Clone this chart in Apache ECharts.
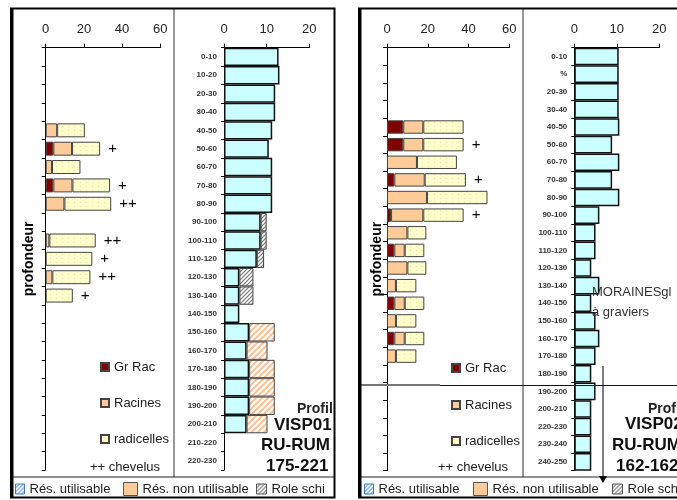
<!DOCTYPE html>
<html><head><meta charset="utf-8">
<script src="https://cdn.jsdelivr.net/npm/echarts@6/dist/echarts.min.js"></script>
<style>html,body{margin:0;padding:0;background:#fff}#c{width:677px;height:500px}</style>
</head><body><div id="c"></div>
<script>
// ---------- DATA ----------
const depth1 = ['0-10','10-20','20-30','30-40','40-50','50-60','60-70','70-80','80-90','90-100','100-110','110-120','120-130','130-140','140-150','150-160','160-170','170-180','180-190','190-200','200-210','210-220','220-230'];
const grRac1 = [null,null,null,null,null,4,null,4,null,null,null,null,null,null,null,null,null,null,null,null,null,null,null];
const racines1 = [null,null,null,null,6,9.8,3.3,10,9.8,null,1.9,null,3.5,null,null,null,null,null,null,null,null,null,null];
const radicelles1 = [null,null,null,null,14.5,14.7,14.9,19.7,24.5,null,24.3,24.4,19.9,14.2,null,null,null,null,null,null,null,null,null];
const chevelus1 = ['','','','','','+','','+','++','','++','+','++','+','','','','','','','','',''];
const utilisable1 = [12.8,13.0,12.0,12.0,11.3,10.5,11.3,11.3,11.3,8.6,8.6,7.7,3.6,3.6,3.6,5.9,5.3,5.9,5.9,5.9,5.3,null,null];
const nonUtil1 = [null,null,null,null,null,null,null,null,null,null,null,null,null,null,null,6.0,4.9,6.0,6.0,6.0,4.9,null,null];
const schiste1 = [null,null,null,null,null,null,null,null,null,1.4,1.4,1.7,3.3,3.3,null,null,null,null,null,null,null,null,null];

const depth2 = ['0-10','%','20-30','30-40','40-50','50-60','60-70','70-80','80-90','90-100','100-110','110-120','120-130','130-140','140-150','150-160','160-170','170-180','180-190','190-200','200-210','220-230','230-240','240-250'];
const grRac2 = [null,null,null,null,8,8,null,3.6,null,2,null,3.6,null,null,3.6,null,3.6,null,null,null,null,null,null,null];
const racines2 = [null,null,null,null,9.8,9.8,14.7,14.9,19.6,15.8,10,5.1,10,4.4,5.1,4.4,5.1,4.4,null,null,null,null,null,null];
const radicelles2 = [null,null,null,null,19.8,19.8,19.6,20.2,29.7,19.8,9.3,9.6,9.3,10,9.6,10,9.6,10,null,null,null,null,null,null];
const chevelus2 = ['','','','','','+','','+','','+','','','','','','','','','','','','','',''];
const utilisable2 = [10.45,10.45,10.45,10.45,10.6,8.9,10.6,8.9,10.6,5.9,5.0,5.0,4.0,5.9,4.0,5.0,5.9,5.0,4.0,5.0,4.0,4.0,4.0,4.0];

const rootTicks = [0,20,40,60];
const ruTicks = [0,10,20];

// ---------- PATTERNS ----------
function hatch(fg, bg, size, lw) {
  const c = document.createElement('canvas'); c.width = c.height = size;
  const x = c.getContext('2d'); x.fillStyle = bg; x.fillRect(0,0,size,size);
  x.strokeStyle = fg; x.lineWidth = lw; x.beginPath();
  x.moveTo(0,size); x.lineTo(size,0);
  x.moveTo(-size/2,size/2); x.lineTo(size/2,-size/2);
  x.moveTo(size/2,size*1.5); x.lineTo(size*1.5,size/2);
  x.stroke();
  return {image:c, repeat:'repeat'};
}
function dots(fg, bg) {
  const c = document.createElement('canvas'); c.width = 6; c.height = 4;
  const x = c.getContext('2d'); x.fillStyle = bg; x.fillRect(0,0,6,4);
  x.fillStyle = fg; x.fillRect(2,2,1,1);
  return {image:c, repeat:'repeat'};
}
const hOrange = hatch('#ffbb88','#ffffff',6,1.8);
const hGray = hatch('#7a7a7a','#ffffff',4,1.2);
const hBlue = hatch('#66a3e6','#ffffff',4,1.2);
const dYellow = dots('#e6e0a8','#ffffcc');

const FONT = 'Arial, "Liberation Sans", sans-serif';

// ---------- AXES ----------
function xAx(g, max, interval) {
  return {gridIndex:g, type:'value', position:'top', min:0, max:max, interval:interval,
    splitLine:{show:false},
    axisLine:{show:true, lineStyle:{color:'#000', width:1}},
    axisTick:{show:true, inside:false, length:4, lineStyle:{color:'#000'}},
    axisLabel:{fontSize:13, color:'#222', margin:12, fontFamily:FONT}};
}
function yAxRoot(g, cats, gap) {
  return {gridIndex:g, type:'category', data:cats, inverse:true,
    axisLine:{show:true, lineStyle:{color:'#000'}},
    axisTick:{show:true, length:4, lineStyle:{color:'#000'}},
    axisLabel:{show:false}, splitLine:{show:false},
    name:'profondeur', nameLocation:'middle', nameRotate:90, nameGap:gap,
    nameTextStyle:{fontSize:14, fontWeight:'bold', color:'#000', fontFamily:FONT}};
}
function yAxRU(g, cats) {
  return {gridIndex:g, type:'category', data:cats, inverse:true,
    axisLine:{show:true, lineStyle:{color:'#000'}},
    axisTick:{show:true, length:3, lineStyle:{color:'#000'}},
    axisLabel:{fontSize:8, fontWeight:'bold', color:'#333', margin:7, fontFamily:FONT},
    splitLine:{show:false}};
}

// ---------- SERIES ----------
function rootSeries(ax, stack, gr, ra, rd, chev) {
  const bw = {borderColor:'#444', borderWidth:1};
  return [
    {name:'Gr Rac', type:'bar', xAxisIndex:ax, yAxisIndex:ax, stack:stack, data:gr, barCategoryGap:'24%',
     itemStyle:Object.assign({color:'#800000'}, bw)},
    {name:'Racines', type:'bar', xAxisIndex:ax, yAxisIndex:ax, stack:stack, data:ra, barCategoryGap:'24%',
     itemStyle:Object.assign({color:'#ffcc99'}, bw)},
    {name:'radicelles', type:'bar', xAxisIndex:ax, yAxisIndex:ax, stack:stack, data:rd, barCategoryGap:'24%',
     itemStyle:Object.assign({color:dYellow}, bw),
     label:{show:true, position:'right', distance:8, fontSize:15, color:'#000', fontFamily:FONT,
       formatter:p => chev[p.dataIndex] || ''}}
  ];
}
const ruBorder = {borderColor:'#111', borderWidth:1.5};
const series = [].concat(
  rootSeries(0,'r1',grRac1,racines1,radicelles1,chevelus1),
  [
    {name:'Rés. utilisable', type:'bar', xAxisIndex:1, yAxisIndex:1, stack:'u1', data:utilisable1, barCategoryGap:'0%',
     itemStyle:Object.assign({color:'#ccffff'}, ruBorder)},
    {name:'Rés. non utilisable', type:'bar', xAxisIndex:1, yAxisIndex:1, stack:'u1', data:nonUtil1, barCategoryGap:'0%',
     itemStyle:{color:hOrange, borderColor:'#444', borderWidth:1}},
    {name:'Role schi', type:'bar', xAxisIndex:1, yAxisIndex:1, stack:'u1', data:schiste1, barCategoryGap:'0%',
     itemStyle:{color:hGray, borderColor:'#444', borderWidth:1}}
  ],
  rootSeries(2,'r2',grRac2,racines2,radicelles2,chevelus2),
  [
    {name:'Rés. utilisable', type:'bar', xAxisIndex:3, yAxisIndex:3, stack:'u2', data:utilisable2, barCategoryGap:'0%',
     itemStyle:Object.assign({color:'#ccffff'}, ruBorder)}
  ]
);

// ---------- LEGENDS ----------
function leg(item, x, cy, w, h) {
  return {data:[item], left:x, top:cy-8, orient:'horizontal', itemWidth:w, itemHeight:h, itemGap:0,
    icon:'rect', padding:0, selectedMode:false,
    textStyle:{fontSize:13, color:'#222', fontFamily:FONT, lineHeight:16}};
}
const legends = [
  leg('Gr Rac', 100, 367, 8, 8), leg('Racines', 100, 403, 8, 8), leg('radicelles', 100, 439, 8, 8),
  leg('Gr Rac', 451, 368, 8, 8), leg('Racines', 451, 405, 8, 8), leg('radicelles', 451, 441, 8, 8),
  leg({name:'Rés. utilisable', icon:'rect', itemStyle:{color:hBlue, borderColor:'#3d78c0', borderWidth:1}}, 15, 489, 9, 10),
  leg({name:'Rés. non utilisable', icon:'rect', itemStyle:{color:'#ffcc99', borderColor:'#555', borderWidth:1}}, 123, 489, 14, 13),
  leg({name:'Role schi', icon:'rect', itemStyle:{color:hGray, borderColor:'#555', borderWidth:1}}, 256, 489, 10, 10),
  leg({name:'Rés. utilisable', icon:'rect', itemStyle:{color:hBlue, borderColor:'#3d78c0', borderWidth:1}}, 364, 489, 9, 10),
  leg({name:'Rés. non utilisable', icon:'rect', itemStyle:{color:'#ffcc99', borderColor:'#555', borderWidth:1}}, 473, 489, 14, 13),
  leg({name:'Role schi', icon:'rect', itemStyle:{color:hGray, borderColor:'#555', borderWidth:1}}, 612, 489, 10, 10)
];

// ---------- GRAPHICS ----------
function line(x1,y1,x2,y2,color,w,z) {
  return {type:'line', shape:{x1,y1,x2,y2}, style:{stroke:color, lineWidth:w}, z:z||50, silent:true};
}
function txt(s, x, y, font, fill, z) {
  return {type:'text', x:x, y:y, z:z||50, silent:true,
    style:{text:s, font:font, fill:fill||'#222', textVerticalAlign:'middle', verticalAlign:'middle'}};
}
const TB = 'bold 17px ' + FONT;
const graphics = [
  line(174,8,174,477,'#333',1), line(523,8,523,477,'#333',1),
  line(11,477,335,477,'#222',1), line(359,477,677,477,'#222',1),
  line(360,385,440,385,'#777',2), line(440,385.5,677,385.5,'#111',1),
  line(603,366,603,477,'#000',1),
  {type:'polygon', shape:{points:[[599,476],[607,476],[603,483]]}, style:{fill:'#000'}, z:50, silent:true},
  txt('++ chevelus', 90, 467, '13px ' + FONT),
  txt('++ chevelus', 438, 467, '13px ' + FONT),
  txt('MORAINESgl', 592, 292, '13px ' + FONT, '#333'),
  txt('à graviers', 592, 312, '13px ' + FONT, '#333'),
  txt('Profil', 297, 409, 'bold 14px ' + FONT, '#222'),
  txt('VISP01', 274, 425, TB, '#111'),
  txt('RU-RUM', 261, 445, TB, '#111'),
  txt('175-221', 266, 466, TB, '#111'),
  txt('Profil', 648, 409, 'bold 14px ' + FONT, '#222'),
  txt('VISP02', 625, 424, TB, '#111'),
  txt('RU-RUM', 612, 445, TB, '#111'),
  txt('162-162', 616, 466, TB, '#111'),
  {type:'rect', shape:{x:335.5, y:0, width:23, height:500}, style:{fill:'#fff'}, z:100, silent:true},
  {type:'rect', shape:{x:11, y:8.5, width:323.5, height:489}, style:{fill:null, stroke:'#000', lineWidth:2}, z:101, silent:true},
  line(12,8,12,498,'#000',3,101),
  {type:'rect', shape:{x:359, y:8.5, width:340, height:489}, style:{fill:null, stroke:'#000', lineWidth:2}, z:101, silent:true},
  line(360,8,360,498,'#000',3,101)
];

const chart = echarts.init(document.getElementById('c'), null, {renderer:'canvas'});
chart.setOption({
  animation:false,
  backgroundColor:'#fff',
  textStyle:{fontFamily:FONT},
  grid:[
    {left:45.7, top:47.7, width:114.6, height:422.3},
    {left:224, top:47.7, width:85.3, height:422.3},
    {left:387, top:47.7, width:122.3, height:423},
    {left:574.3, top:47.7, width:85, height:423}
  ],
  xAxis:[xAx(0,60,20), xAx(1,20,10), xAx(2,60,20), xAx(3,20,10)],
  yAxis:[yAxRoot(0,depth1,10), yAxRU(1,depth1), yAxRoot(2,depth2,3), yAxRU(3,depth2)],
  legend:legends,
  series:series,
  graphic:{elements:graphics}
});
</script></body></html>
